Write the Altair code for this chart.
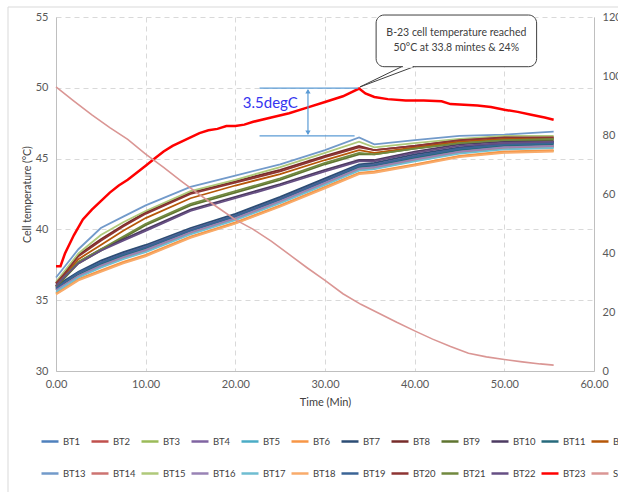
import altair as alt
import pandas as pd

# ---------------- data ----------------
TIME_BT = [0, 1, 2.5, 5, 7.5, 10, 15, 20, 25, 30, 33.8, 35.5, 40, 45, 50, 55.5]

BT1 = [35.9, 36.3, 36.9, 37.6, 38.2, 38.7, 39.9, 40.9, 42.1, 43.4, 44.45, 44.5, 45.1, 45.65, 45.95, 46.05]
BT2 = [35.75, 36.15, 36.75, 37.5, 38.1, 38.6, 39.8, 40.8, 42.0, 43.3, 44.3, 44.4, 45.0, 45.5, 45.8, 45.9]
BT3 = [35.45, 35.85, 36.45, 37.05, 37.65, 38.15, 39.45, 40.45, 41.65, 42.95, 43.95, 44.05, 44.55, 45.15, 45.45, 45.55]
BT4 = [35.9, 36.3, 36.9, 37.7, 38.3, 38.8, 40.0, 41.0, 42.2, 43.5, 44.5, 44.6, 45.2, 45.7, 46.0, 46.1]
BT5 = [35.7, 36.05, 36.65, 37.35, 37.95, 38.45, 39.7, 40.7, 41.9, 43.2, 44.2, 44.3, 44.85, 45.4, 45.7, 45.8]
BT6 = [35.5, 35.9, 36.5, 37.1, 37.7, 38.2, 39.5, 40.5, 41.7, 43.0, 44.0, 44.1, 44.6, 45.2, 45.5, 45.6]
BT7 = [36.0, 36.4, 37.0, 37.8, 38.4, 38.9, 40.1, 41.1, 42.3, 43.6, 44.6, 44.7, 45.3, 45.8, 46.1, 46.2]
BT8 = [36.2, 37.0, 38.2, 39.3, 40.3, 41.2, 42.6, 43.4, 44.2, 45.2, 45.9, 45.6, 45.9, 46.3, 46.5, 46.4]
BT9 = [35.9, 36.6, 37.6, 38.5, 39.4, 40.3, 41.7, 42.6, 43.5, 44.6, 45.3, 45.3, 45.7, 46.1, 46.3, 46.3]
BT10 = [36.1, 36.8, 37.7, 38.6, 39.3, 40.0, 41.4, 42.3, 43.2, 44.2, 44.9, 44.9, 45.5, 46.0, 46.2, 46.2]
BT11 = [35.8, 36.2, 36.8, 37.55, 38.15, 38.65, 39.9, 40.9, 42.1, 43.4, 44.4, 44.5, 45.05, 45.6, 45.9, 46.0]
BT12 = [36.0, 36.8, 37.9, 38.9, 39.9, 40.8, 42.2, 43.1, 43.9, 44.9, 45.6, 45.4, 45.8, 46.2, 46.4, 46.5]
BT13 = [36.6, 37.4, 38.6, 40.1, 40.9, 41.7, 43.0, 43.8, 44.6, 45.6, 46.5, 46.0, 46.3, 46.6, 46.7, 46.9]
BT14 = [35.7, 36.1, 36.7, 37.4, 38.0, 38.5, 39.75, 40.75, 41.95, 43.25, 44.25, 44.35, 44.9, 45.45, 45.75, 45.85]
BT15 = [36.3, 37.1, 38.3, 39.6, 40.5, 41.3, 42.7, 43.5, 44.4, 45.4, 46.2, 45.8, 46.1, 46.4, 46.6, 46.6]
BT16 = [35.75, 36.1, 36.7, 37.45, 38.05, 38.55, 39.8, 40.8, 42.0, 43.3, 44.3, 44.4, 44.95, 45.5, 45.8, 45.9]
BT17 = [35.6, 36.0, 36.6, 37.3, 37.9, 38.4, 39.65, 40.65, 41.85, 43.15, 44.15, 44.25, 44.8, 45.35, 45.65, 45.75]
BT18 = [35.4, 35.8, 36.4, 37.0, 37.6, 38.1, 39.4, 40.4, 41.6, 42.9, 43.9, 44.0, 44.5, 45.1, 45.4, 45.5]
BT19 = [35.85, 36.3, 36.95, 37.65, 38.25, 38.75, 39.95, 40.95, 42.15, 43.45, 44.5, 44.55, 45.15, 45.7, 46.0, 46.1]
BT20 = [36.2, 36.9, 38.1, 39.2, 40.2, 41.1, 42.5, 43.3, 44.1, 45.1, 45.8, 45.6, 45.9, 46.3, 46.5, 46.5]
BT21 = [36.0, 36.7, 37.7, 38.6, 39.5, 40.4, 41.8, 42.7, 43.6, 44.7, 45.4, 45.3, 45.7, 46.1, 46.3, 46.4]
BT22 = [36.0, 36.7, 37.6, 38.5, 39.2, 39.9, 41.3, 42.2, 43.1, 44.1, 44.8, 44.8, 45.4, 45.9, 46.1, 46.2]

TIME_BT23 = [0, 0.5, 1, 2, 3, 4, 5, 6, 7, 8, 9, 10, 11, 12, 13, 14, 15, 16, 17, 18, 19, 20, 21, 22,
             24, 26, 28, 30, 32, 33.8, 34.5, 35.5, 37, 39, 41, 43, 44, 45.5, 47, 48.5, 50, 51.5, 53, 54.5, 55.5]
BT23 = [37.4, 37.4, 38.3, 39.6, 40.7, 41.4, 42.0, 42.6, 43.1, 43.5, 44.0, 44.5, 45.0, 45.5, 45.9, 46.2,
        46.5, 46.8, 47.0, 47.1, 47.3, 47.3, 47.4, 47.6, 47.9, 48.2, 48.6, 49.0, 49.4, 49.95, 49.6, 49.35,
        49.2, 49.1, 49.1, 49.05, 48.85, 48.8, 48.75, 48.65, 48.45, 48.3, 48.1, 47.9, 47.75]

TIME_SOC = [0, 2, 4, 6, 8, 10, 12, 14, 16, 18, 20, 22, 24, 26, 28, 30, 32, 34, 36, 38, 40, 42, 44, 46,
            48, 50, 52, 54, 55.5]
SOC = [96.3, 91.5, 86.8, 82.5, 78.5, 73.5, 69.0, 64.3, 59.8, 55.5, 51.3, 48.0, 44.0, 39.5, 35.0, 30.7,
       26.2, 22.6, 19.6, 16.5, 13.6, 10.8, 8.3, 6.0, 4.8, 3.9, 3.1, 2.4, 2.0]

SERIES = ["BT1", "BT2", "BT3", "BT4", "BT5", "BT6", "BT7", "BT8", "BT9", "BT10", "BT11", "BT12",
          "BT13", "BT14", "BT15", "BT16", "BT17", "BT18", "BT19", "BT20", "BT21", "BT22", "BT23", "SOC"]
COLORS = ["#4F81BD", "#C0504D", "#9BBB59", "#8064A2", "#4BACC6", "#F79646",
          "#2C4D75", "#772C2A", "#5F7530", "#4D3B62", "#276A7C", "#B65708",
          "#729ACA", "#CD7371", "#AFC97A", "#9983B5", "#6FBDD1", "#F9AB6B",
          "#3B6496", "#8E3533", "#71893F", "#664F84", "#FF0000", "#DA9694"]

# annotations
CALLOUT_BOX = {"x1": [35.7], "x2": [53.6], "y1": [55.14], "y2": [51.49]}
CALLOUT_TAIL_T = [38.55, 33.9, 39.92]
CALLOUT_TAIL_V = [51.49, 50.06, 51.49]
CALLOUT_LINES = ["B-23 cell temperature reached", "50\u00b0C at 33.8 mintes & 24%"]
CALLOUT_TEXT_T = [44.65, 44.65]
CALLOUT_TEXT_V = [53.87, 52.81]
DELTA_LABEL = "3.5degC"
DELTA_HI = 49.98
DELTA_LO = 46.6
DELTA_X = 28.1

# ---------------- build tables ----------------
bt_lists = [BT1, BT2, BT3, BT4, BT5, BT6, BT7, BT8, BT9, BT10, BT11, BT12,
            BT13, BT14, BT15, BT16, BT17, BT18, BT19, BT20, BT21, BT22]
rows = []
for name, vals in zip(SERIES[:22], bt_lists):
    for t, v in zip(TIME_BT, vals):
        rows.append({"series": name, "t": t, "temp": v})
df_bt = pd.DataFrame(rows)
df_red = pd.DataFrame({"series": "BT23", "t": TIME_BT23, "temp": BT23})
df_soc = pd.DataFrame({"series": "SOC", "t": TIME_SOC, "soc": SOC})

FONT = "Lato"
GRID = "#D9D9D9"
AXIS_LINE = "#BFBFBF"

x_scale = alt.Scale(domain=[0, 60], nice=False, zero=False)
y_scale = alt.Scale(domain=[30, 55], nice=False, zero=False)

x_axis = alt.Axis(values=[0, 10, 20, 30, 40, 50, 60], format=".2f", title="Time (Min)",
                  labelFlush=False, labelFontSize=11, labelColor="#595959", labelFont=FONT,
                  labelPadding=7, tickSize=0, domainColor=AXIS_LINE, grid=True, gridColor=GRID,
                  gridDash=[5, 4], titleFont=FONT, titleFontSize=11, titleFontWeight="normal",
                  titleColor="#404040", titlePadding=7)
y_axis = alt.Axis(values=[30, 35, 40, 45, 50, 55], title="Cell temperature (\u00b0C)",
                  labelFontSize=11, labelColor="#595959", labelFont=FONT, labelPadding=8,
                  tickSize=0, domainColor=AXIS_LINE, grid=True, gridColor=GRID, gridDash=[5, 4],
                  titleFont=FONT, titleFontSize=10.5, titleFontWeight="normal",
                  titleColor="#404040", titlePadding=3)
soc_axis = alt.Axis(values=[0, 20, 40, 60, 80, 100, 120], orient="right", title=None,
                    labelFontSize=11, labelColor="#595959", labelFont=FONT, labelPadding=8,
                    tickSize=0, domainColor=AXIS_LINE, grid=False)


def X(field):
    return alt.X(f"{field}:Q", scale=x_scale, axis=x_axis)


def Y(field):
    return alt.Y(f"{field}:Q", scale=y_scale, axis=y_axis)


legend = alt.Legend(orient="none", legendX=-16, legendY=414.5, direction="horizontal", columns=12,
                    title=None, symbolType="stroke", symbolSize=289, symbolStrokeWidth=2.5,
                    labelFontSize=9.5, labelFont=FONT, labelColor="#404040", labelOffset=3,
                    columnPadding=0, rowPadding=17, gridAlign="all", padding=0)
color_enc = alt.Color("series:N", scale=alt.Scale(domain=SERIES, range=COLORS), legend=legend)

dummy = pd.DataFrame({"a": [0]})

border_left = alt.Chart(dummy).mark_rule(color="#D9D9D9", strokeWidth=1).encode(
    x=alt.value(-48), y=alt.value(-10), y2=alt.value(480))
border_top = alt.Chart(dummy).mark_rule(color="#D9D9D9", strokeWidth=1).encode(
    x=alt.value(-48), x2=alt.value(600), y=alt.value(-10))

bt_lines = alt.Chart(df_bt).mark_line(strokeWidth=1.8).encode(
    x=X("t"), y=Y("temp"), color=color_enc)
red_line = alt.Chart(df_red).mark_line(strokeWidth=2.5).encode(
    x=X("t"), y=Y("temp"), color=color_enc)

# delta annotation
df_delta_h = pd.DataFrame({"x1": [22.7, 22.7], "x2": [33.7, 33.3], "v": [DELTA_HI, DELTA_LO]})
delta_h = alt.Chart(df_delta_h).mark_rule(color="#5B9BD5", strokeWidth=1.2).encode(
    x=X("x1"), x2="x2", y=Y("v"))
df_delta_v = pd.DataFrame({"x": [DELTA_X], "v1": [DELTA_LO + 0.15], "v2": [DELTA_HI - 0.15]})
delta_v = alt.Chart(df_delta_v).mark_rule(color="#5B9BD5", strokeWidth=1.2).encode(
    x=X("x"), y=Y("v1"), y2="v2")
df_heads = pd.DataFrame({"x": [DELTA_X, DELTA_X], "v": [DELTA_HI - 0.22, DELTA_LO + 0.22],
                         "shape": ["triangle-up", "triangle-down"]})
heads = alt.Chart(df_heads).mark_point(filled=True, size=28, color="#5B9BD5", opacity=1).encode(
    x=X("x"), y=Y("v"),
    shape=alt.Shape("shape:N", scale=alt.Scale(domain=["triangle-up", "triangle-down"],
                                                 range=["triangle-up", "triangle-down"]),
                    legend=None))
df_delta_t = pd.DataFrame({"x": [23.9], "v": [48.93], "txt": [DELTA_LABEL]})
delta_t = alt.Chart(df_delta_t).mark_text(fontSize=15, font=FONT, color="#3535F0",
                                          align="center", baseline="middle").encode(
    x=X("x"), y=Y("v"), text="txt:N")

# callout
df_box = pd.DataFrame(CALLOUT_BOX)
box = alt.Chart(df_box).mark_rect(cornerRadius=8, fill="white", stroke="#404040",
                                  strokeWidth=1).encode(x=X("x1"), x2="x2", y=Y("y1"), y2="y2")
df_tail = pd.DataFrame({"x": CALLOUT_TAIL_T, "v": CALLOUT_TAIL_V, "o": [0, 1, 2]})
tail = alt.Chart(df_tail).mark_line(color="#404040", strokeWidth=1).encode(
    x=X("x"), y=Y("v"), order="o:Q")
df_cover = pd.DataFrame({"x1": [CALLOUT_TAIL_T[0] + 0.15], "x2": [CALLOUT_TAIL_T[2] - 0.15],
                         "v": [CALLOUT_TAIL_V[0]]})
cover = alt.Chart(df_cover).mark_rule(color="white", strokeWidth=2).encode(
    x=X("x1"), x2="x2", y=Y("v"))
df_ctext = pd.DataFrame({"x": CALLOUT_TEXT_T, "v": CALLOUT_TEXT_V, "txt": CALLOUT_LINES})
ctext = alt.Chart(df_ctext).mark_text(fontSize=10.5, font=FONT, color="#404040",
                                      align="center", baseline="middle").encode(
    x=X("x"), y=Y("v"), text="txt:N")

left = alt.layer(border_left, border_top, bt_lines, red_line, delta_h, delta_v, heads, delta_t,
                 box, tail, cover, ctext)

soc_line = alt.Chart(df_soc).mark_line(strokeWidth=1.6).encode(
    x=X("t"),
    y=alt.Y("soc:Q", scale=alt.Scale(domain=[0, 120], nice=False), axis=soc_axis),
    color=color_enc)

chart = alt.layer(left, soc_line).resolve_scale(y="independent").properties(
    width=538, height=354,
    autosize=alt.AutoSizeParams(type="none"),
    padding={"left": 56, "top": 17, "right": 24, "bottom": 121},
    background="white",
).configure_view(strokeWidth=0)

chart.save("out.html", embed_options={"renderer": "svg", "actions": False})
